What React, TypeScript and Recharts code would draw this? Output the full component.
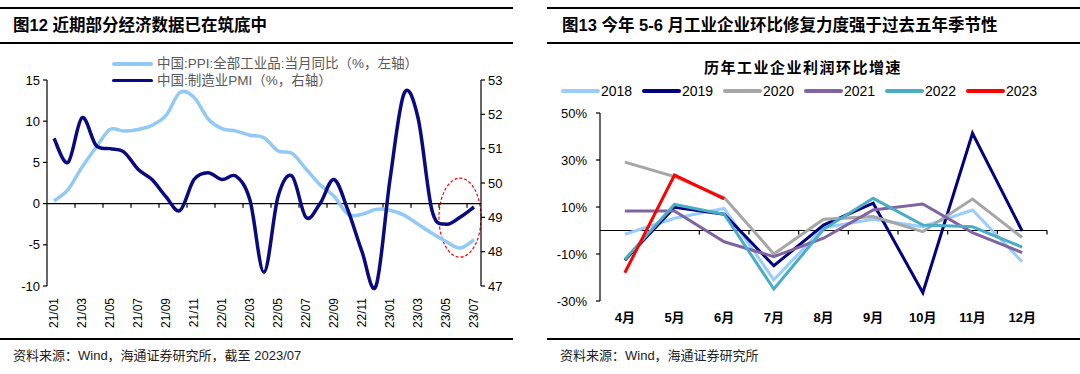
import React from 'react';
import { LineChart, Line, XAxis, YAxis, ReferenceLine, ReferenceArea } from 'recharts';

const FONT = '"Liberation Sans", Arial, "Noto Sans CJK SC", sans-serif';

// 图12：PPI同比（左轴）与制造业PMI（右轴）
const months = [
  '21/01', '21/02', '21/03', '21/04', '21/05', '21/06', '21/07', '21/08', '21/09', '21/10', '21/11', '21/12',
  '22/01', '22/02', '22/03', '22/04', '22/05', '22/06', '22/07', '22/08', '22/09', '22/10', '22/11', '22/12',
  '23/01', '23/02', '23/03', '23/04', '23/05', '23/06', '23/07',
];
const ppi = [
  0.3, 1.7, 4.4, 6.8, 9.0, 8.8, 9.0, 9.5, 10.7, 13.5, 12.9, 10.3,
  9.1, 8.8, 8.3, 8.0, 6.4, 6.1, 4.2, 2.3, 0.9, -1.3, -1.3, -0.7,
  -0.8, -1.4, -2.5, -3.6, -4.6, -5.4, -4.4,
];
const pmi = [
  51.3, 50.6, 51.9, 51.1, 51.0, 50.9, 50.4, 50.1, 49.6, 49.2, 50.1, 50.3,
  50.1, 50.2, 49.5, 47.4, 49.6, 50.2, 49.0, 49.4, 50.1, 49.2, 48.0, 47.0,
  50.1, 52.6, 51.9, 49.2, 48.8, 49.0, 49.3,
];
const leftTicks = [-10, -5, 0, 5, 10, 15];
const rightTicks = [47, 48, 49, 50, 51, 52, 53];

// 图13：历年工业企业利润环比增速（%）
const monthNames = ['4月', '5月', '6月', '7月', '8月', '9月', '10月', '11月', '12月'];
const y2018 = [-1.6, 5.2, 9.4, -21, 1.2, 4.8, 1.6, 8.7, -13.3];
const y2019 = [-12.6, 9.9, 6.9, -15, 2.3, 11.6, -26.5, 41.4, -0.2];
const y2020 = [29.1, 22.9, 14, -10, 4.8, 5.9, -0.5, 13.4, -3];
const y2021 = [8.3, 8.3, -4.8, -11.1, -3.3, 8.7, 11.3, -0.9, -9.4];
const y2022 = [-12.3, 11.1, 6.9, -24.9, 0.5, 13.7, 2.3, 1.6, -7.1];
const y2023 = [-18, 23.6, 13.5, null, null, null, null, null, null];
const pctTicks = [-30, -10, 10, 30, 50];

const years = [
  { key: '2018', color: '#99ccff' },
  { key: '2019', color: '#000080' },
  { key: '2020', color: '#a6a6a6' },
  { key: '2021', color: '#8064a2' },
  { key: '2022', color: '#4bacc6' },
  { key: '2023', color: '#ff0000' },
];

const PPI_COLOR = '#93c9f5';
const PMI_COLOR = '#0a0a80';

const leftData = months.map((m, i) => ({ m, ppi: ppi[i], pmi: pmi[i] }));
const rightData = monthNames.map((m, i) => ({
  m,
  '2018': y2018[i],
  '2019': y2019[i],
  '2020': y2020[i],
  '2021': y2021[i],
  '2022': y2022[i],
  '2023': y2023[i],
}));

// Excel 风格平滑曲线
const excelCurve = (context: any) => {
  let pts: number[][] = [];
  return {
    areaStart() {},
    areaEnd() {},
    lineStart() {
      pts = [];
    },
    point(x: number, y: number) {
      pts.push([+x, +y]);
    },
    lineEnd() {
      if (!pts.length) return;
      context.moveTo(pts[0][0], pts[0][1]);
      for (let i = 0; i < pts.length - 1; i++) {
        const p0 = pts[i - 1] || pts[i];
        const p1 = pts[i];
        const p2 = pts[i + 1];
        const p3 = pts[i + 2] || p2;
        context.bezierCurveTo(
          p1[0] + (p2[0] - p0[0]) / 6,
          p1[1] + (p2[1] - p0[1]) / 6,
          p2[0] - (p3[0] - p1[0]) / 6,
          p2[1] - (p3[1] - p1[1]) / 6,
          p2[0],
          p2[1],
        );
      }
    },
  };
};

const RotTick = (props: any) => {
  const { x, y, payload } = props;
  return (
    <text
      transform={`translate(${x},${y}) rotate(-90)`}
      textAnchor="end"
      dy="0.35em"
      fontSize={12}
      fill="#000"
      fontFamily={FONT}
    >
      {payload.value}
    </text>
  );
};

const Ellipse = (p: any) => (
  <ellipse
    cx={p.x + p.width / 2}
    cy={p.y + p.height / 2}
    rx={p.width / 2}
    ry={p.height / 2}
    fill="none"
    stroke="#ff0000"
    strokeWidth={1.2}
    strokeDasharray="3 2"
  />
);

const rule = (left: number, top: number, width: number) => (
  <div style={{ position: 'absolute', left, top, width, height: 2, background: '#000' }} />
);

const App = () => {
  const leftTickCats = months.filter((_, i) => i > 0 && i % 2 === 0);
  return (
    <div
      style={{
        position: 'absolute',
        left: 0,
        top: 0,
        width: 1080,
        height: 374,
        background: '#fff',
        overflow: 'hidden',
        fontFamily: FONT,
        color: '#000',
      }}
    >
      {/* 左图 */}
      {rule(0, 7, 513)}
      <div style={{ position: 'absolute', left: 13, top: 14, fontSize: 16.5, fontWeight: 'bold', lineHeight: '22px', whiteSpace: 'nowrap' }}>
        图12 近期部分经济数据已在筑底中
      </div>
      {rule(0, 42, 513)}

      <div style={{ position: 'absolute', left: 0, top: 0 }}>
        <LineChart width={540} height={340} data={leftData} margin={{ top: 80, right: 0, bottom: 10, left: 0 }}>
          <XAxis
            dataKey="m"
            scale="band"
            interval={1}
            axisLine={false}
            tickLine={false}
            tickSize={0}
            tickMargin={12}
            height={44}
            tick={<RotTick />}
          />
          <YAxis
            yAxisId="left"
            domain={[-10, 15]}
            ticks={leftTicks}
            width={47}
            axisLine={{ stroke: '#000', strokeWidth: 1.2 }}
            tickLine={{ stroke: '#000', strokeWidth: 1.2 }}
            tickSize={4}
            tickMargin={3}
            tick={{ fill: '#000', fontSize: 13 }}
          />
          <YAxis
            yAxisId="right"
            orientation="right"
            domain={[47, 53]}
            ticks={rightTicks}
            width={59}
            axisLine={{ stroke: '#000', strokeWidth: 1.2 }}
            tickLine={{ stroke: '#000', strokeWidth: 1.2 }}
            tickSize={4}
            tickMargin={3}
            tick={{ fill: '#000', fontSize: 13 }}
          />
          <ReferenceLine yAxisId="left" y={0} stroke="#000" strokeWidth={1.2} />
          {leftTickCats.map((c) => (
            <ReferenceLine
              key={c}
              yAxisId="left"
              position="start"
              segment={[{ x: c, y: 0 }, { x: c, y: -0.5 }]}
              stroke="#000"
              strokeWidth={1.2}
            />
          ))}
          <Line
            yAxisId="left"
            dataKey="ppi"
            type={excelCurve as any}
            stroke={PPI_COLOR}
            strokeWidth={3.5}
            dot={false}
            isAnimationActive={false}
          />
          <Line
            yAxisId="right"
            dataKey="pmi"
            type={excelCurve as any}
            stroke={PMI_COLOR}
            strokeWidth={3.5}
            dot={false}
            isAnimationActive={false}
          />
          <ReferenceArea yAxisId="left" x1="23/05" x2="23/07" y1={-6.5} y2={3.1} shape={<Ellipse />} />
        </LineChart>
      </div>

      {/* 左图图例 */}
      {[
        { label: '中国:PPI:全部工业品:当月同比（%，左轴）', color: PPI_COLOR, cy: 64 },
        { label: '中国:制造业PMI（%，右轴）', color: PMI_COLOR, cy: 80.5 },
      ].map((it) => (
        <React.Fragment key={it.label}>
          <div style={{ position: 'absolute', left: 112, top: it.cy - 1.75, width: 41, height: 3.5, background: it.color, borderRadius: 2 }} />
          <div style={{ position: 'absolute', left: 157, top: it.cy - 8, fontSize: 13.5, lineHeight: '16px', color: '#595959', whiteSpace: 'nowrap' }}>
            {it.label}
          </div>
        </React.Fragment>
      ))}

      {rule(0, 338, 513)}
      <div style={{ position: 'absolute', left: 13, top: 347, fontSize: 13, lineHeight: '18px', color: '#222', whiteSpace: 'nowrap' }}>
        资料来源：Wind，海通证券研究所，截至 2023/07
      </div>

      {/* 右图 */}
      {rule(547, 7, 533)}
      <div style={{ position: 'absolute', left: 562, top: 14, fontSize: 16.5, fontWeight: 'bold', lineHeight: '22px', whiteSpace: 'nowrap' }}>
        图13 今年 5-6 月工业企业环比修复力度强于过去五年季节性
      </div>
      {rule(547, 42, 533)}

      <div style={{ position: 'absolute', left: 603, width: 400, top: 58, textAlign: 'center', fontSize: 15, fontWeight: 'bold', lineHeight: '20px', letterSpacing: 1.5 }}>
        历年工业企业利润环比增速
      </div>

      {years.map((y, i) => (
        <React.Fragment key={y.key}>
          <div style={{ position: 'absolute', left: 561 + i * 81, top: 89, width: 39, height: 3.5, background: y.color, borderRadius: 2 }} />
          <div style={{ position: 'absolute', left: 601 + i * 81, top: 82, fontSize: 14, lineHeight: '18px' }}>{y.key}</div>
        </React.Fragment>
      ))}

      <div style={{ position: 'absolute', left: 540, top: 0 }}>
        <LineChart width={540} height={340} data={rightData} margin={{ top: 113, right: 33, bottom: 9, left: 0 }}>
          <XAxis
            dataKey="m"
            scale="band"
            interval={0}
            axisLine={false}
            tickLine={false}
            tickSize={0}
            tickMargin={12}
            height={30}
            tick={{ fill: '#000', fontSize: 13, fontWeight: 'bold' }}
          />
          <YAxis
            domain={[-30, 50]}
            ticks={pctTicks}
            width={60}
            axisLine={{ stroke: '#000', strokeWidth: 1.2 }}
            tickLine={{ stroke: '#000', strokeWidth: 1.2 }}
            tickSize={4}
            tickMargin={9}
            tickFormatter={(v: number) => `${v}%`}
            tick={{ fill: '#000', fontSize: 13 }}
          />
          <ReferenceLine y={0} stroke="#000" strokeWidth={1.2} />
          {monthNames.map((c) => (
            <ReferenceLine
              key={c}
              position="end"
              segment={[{ x: c, y: 0 }, { x: c, y: -1.7 }]}
              stroke="#000"
              strokeWidth={1.2}
            />
          ))}
          {years.map((y) => (
            <Line
              key={y.key}
              dataKey={y.key}
              type="linear"
              stroke={y.color}
              strokeWidth={3}
              dot={false}
              isAnimationActive={false}
            />
          ))}
        </LineChart>
      </div>

      {rule(547, 338, 533)}
      <div style={{ position: 'absolute', left: 560, top: 347, fontSize: 13, lineHeight: '18px', color: '#222', whiteSpace: 'nowrap' }}>
        资料来源：Wind，海通证券研究所
      </div>
    </div>
  );
};

export default App;
